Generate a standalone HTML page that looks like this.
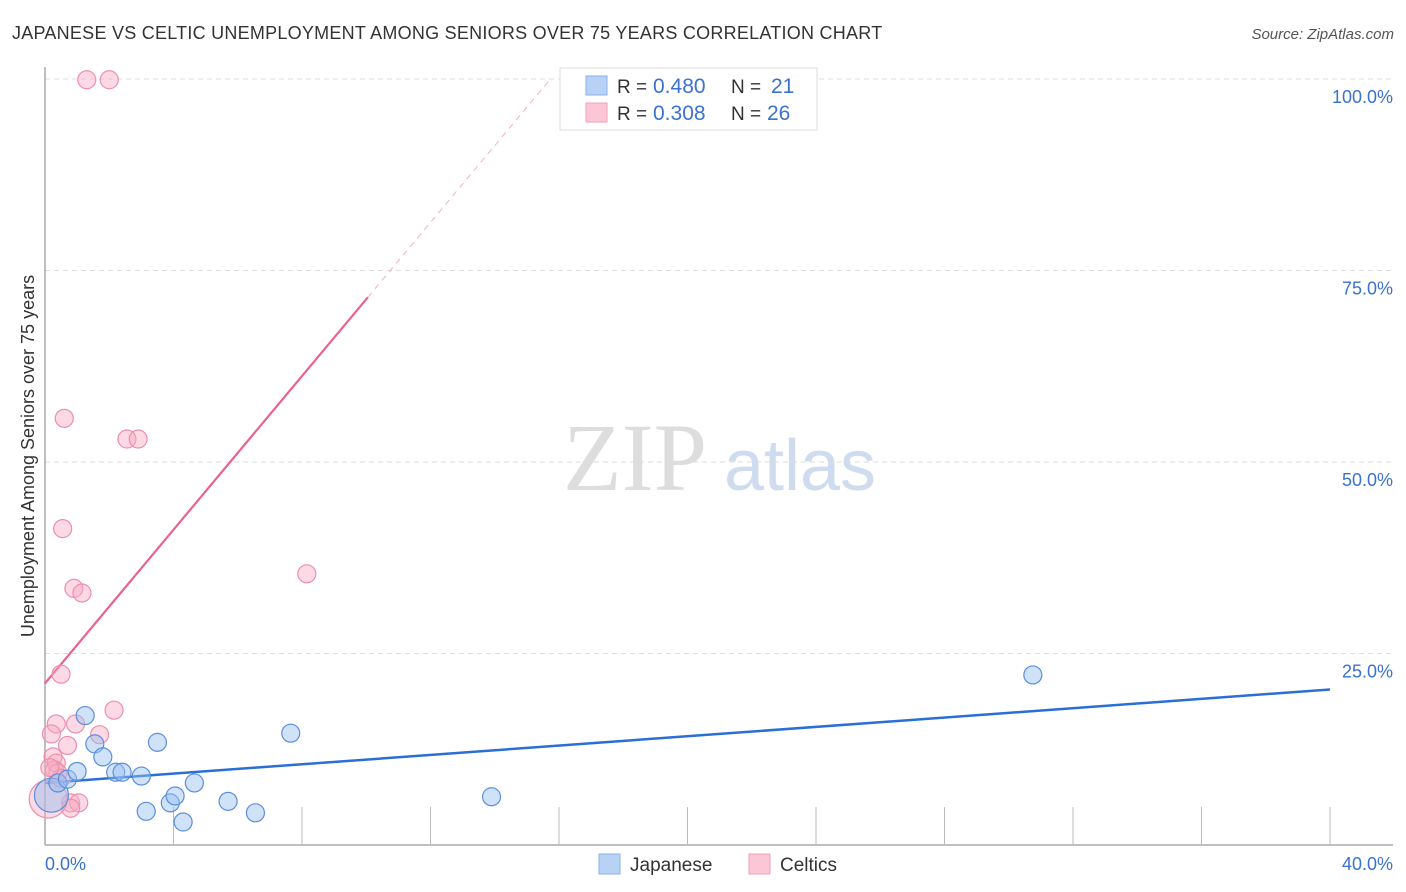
<!DOCTYPE html>
<html><head><meta charset="utf-8"><style>
body{margin:0;background:#fff;font-family:"Liberation Sans",sans-serif;}
svg{display:block}
</style></head><body>
<svg id="chart" width="1406" height="892" xmlns="http://www.w3.org/2000/svg">
<text x="12" y="39" font-size="18" fill="#333" letter-spacing="0.25">JAPANESE VS CELTIC UNEMPLOYMENT AMONG SENIORS OVER 75 YEARS CORRELATION CHART</text>
<text x="1394" y="39" font-size="15" fill="#555" font-style="italic" text-anchor="end">Source: ZipAtlas.com</text>
<text x="34" y="456" font-size="18" fill="#333" text-anchor="middle" transform="rotate(-90 34 456)">Unemployment Among Seniors over 75 years</text>
<g>
<text x="635" y="490" font-size="96" fill="#ddd" font-family="Liberation Serif,serif" text-anchor="middle">ZIP</text>
<text x="800" y="490" font-size="72" fill="#cfdcf0" text-anchor="middle">atlas</text>
</g>
<g id="grid"></g>
<g id="axes"></g>
<g id="lines"></g>
<g id="points"></g>
<g>
<rect x="560" y="68" width="257" height="62" fill="#fff" stroke="#ddd"/>
<rect x="586" y="76" width="21" height="19" fill="#b8d2f5" stroke="#8ab0e8"/>
<rect x="586" y="103" width="21" height="19" fill="#fbc6d6" stroke="#f0a0b8"/>
<text x="617" y="93" font-size="19" fill="#333">R = <tspan x="653" fill="#3a72d0" font-size="21">0.480</tspan><tspan x="731">N = </tspan><tspan x="771" fill="#3a72d0" font-size="21">21</tspan></text>
<text x="617" y="120" font-size="19" fill="#333">R = <tspan x="653" fill="#3a72d0" font-size="21">0.308</tspan><tspan x="731">N = </tspan><tspan x="767" fill="#3a72d0" font-size="21">26</tspan></text>
</g>
<g>
<rect x="599" y="854" width="21" height="20" fill="#b8d2f5" stroke="#8ab0e8"/>
<text x="630" y="871" font-size="19" fill="#333">Japanese</text>
<rect x="749" y="854" width="21" height="20" fill="#fbc6d6" stroke="#f0a0b8"/>
<text x="780" y="871" font-size="19" fill="#333">Celtics</text>
</g>
</svg>
<script>
const yTicks=[25,50,75,100];
const yTickLabels=["25.0%","50.0%","75.0%","100.0%"];
const xTickLabels=["0.0%","40.0%"];
const japX=[0.2,0.4,0.7,1.0,1.25,1.55,1.8,2.2,2.4,3.0,3.5,3.15,3.9,4.05,4.3,4.65,5.7,6.55,7.65,13.9,30.75];
const japY=[6.5,8.1,8.6,9.6,16.9,13.2,11.5,9.5,9.5,9.0,13.4,4.4,5.5,6.4,3.0,8.1,5.7,4.2,14.6,6.3,22.2];
const japR=[17,9,9,9,9,9,9,9,9,9,9,9,9,9,9,9,9,9,9,9,9];
const celX=[1.3,2.0,0.6,2.55,2.9,0.55,0.9,1.15,8.15,0.5,2.15,0.35,0.95,0.2,0.7,1.7,0.25,0.35,0.3,0.4,0.8,1.05,0.8,0.1,0.5,0.15];
const celY=[99.9,99.9,55.7,53.0,53.0,41.3,33.5,32.9,35.4,22.3,17.6,15.8,15.8,14.5,13.0,14.4,11.5,10.7,9.8,9.4,5.5,5.5,4.8,6.0,8.7,10.1];
const celR=[9,9,9,9,9,9,9,9,9,9,9,9,9,9,9,9,9,9,9,9,9,9,9,19,9,9];
const japLine=[8.1,20.3];
const celLine=[21.1,71.5];
const celLineEndX=10.05;
const NS="http://www.w3.org/2000/svg";
const X0=45,X1=1330,Y0=845,Y100=79;
function sx(v){return X0+(X1-X0)*v/40;}
function sy(v){return Y0-(Y0-Y100)*v/100;}
function mk(tag,attrs,parent){const e=document.createElementNS(NS,tag);for(const k in attrs)e.setAttribute(k,attrs[k]);parent.appendChild(e);return e;}
const grid=document.getElementById('grid'),axes=document.getElementById('axes'),lines=document.getElementById('lines'),pts=document.getElementById('points');
yTicks.forEach((t,i)=>{
 const l=mk('line',{x1:X0,x2:1393,y1:sy(t),y2:sy(t),stroke:'#ddd','stroke-dasharray':'5,4'},grid);
 
 
 const tx=mk('text',{x:1393,y:sy(t)+24,'font-size':18,fill:'#3a72d0','text-anchor':'end'},axes);
 tx.textContent=yTickLabels[i];
 
 
});
let a=mk('line',{x1:X0,x2:X0,y1:67,y2:Y0,stroke:'#aaa','stroke-width':1.5},axes);


a=mk('line',{x1:X0,x2:1393,y1:Y0,y2:Y0,stroke:'#aaa','stroke-width':1.5},axes);


for(let i=1;i<=10;i++){
 const t=mk('line',{x1:sx(i*4),x2:sx(i*4),y1:Y0,y2:807,stroke:'#bbb'},axes);
 
 
}
let t1=mk('text',{x:45,y:870,'font-size':18,fill:'#3a72d0'},axes);t1.textContent=xTickLabels[0];


let t2=mk('text',{x:1393,y:870,'font-size':18,fill:'#3a72d0','text-anchor':'end'},axes);t2.textContent=xTickLabels[1];


function draw(xs,ys,rs,fill,stroke,name){
 xs.forEach((x,i)=>{
  const c=mk('circle',{cx:sx(x),cy:sy(ys[i]),r:rs[i],fill:fill,stroke:stroke,'stroke-width':1.2},pts);
  
  
 });
}
draw(celX,celY,celR,'rgba(248,170,195,0.45)','#ec90ad','point-celtics');
draw(japX,japY,japR,'rgba(150,190,240,0.45)','#5b8fdc','point-japanese');
let l=mk('line',{x1:sx(0),y1:sy(japLine[0]),x2:sx(40),y2:sy(japLine[1]),stroke:'#2a6fd6','stroke-width':2.5},lines);


const slope=(celLine[1]-celLine[0])/celLineEndX;
l=mk('line',{x1:sx(0),y1:sy(celLine[0]),x2:sx(celLineEndX),y2:sy(celLine[1]),stroke:'#e8638e','stroke-width':2.2},lines);


const xe=(100-celLine[0])/slope;
l=mk('line',{x1:sx(celLineEndX),y1:sy(celLine[1]),x2:sx(xe),y2:sy(100),stroke:'#f0b0c4','stroke-width':1,'stroke-dasharray':'6,5'},lines);


</script>
</body></html>
